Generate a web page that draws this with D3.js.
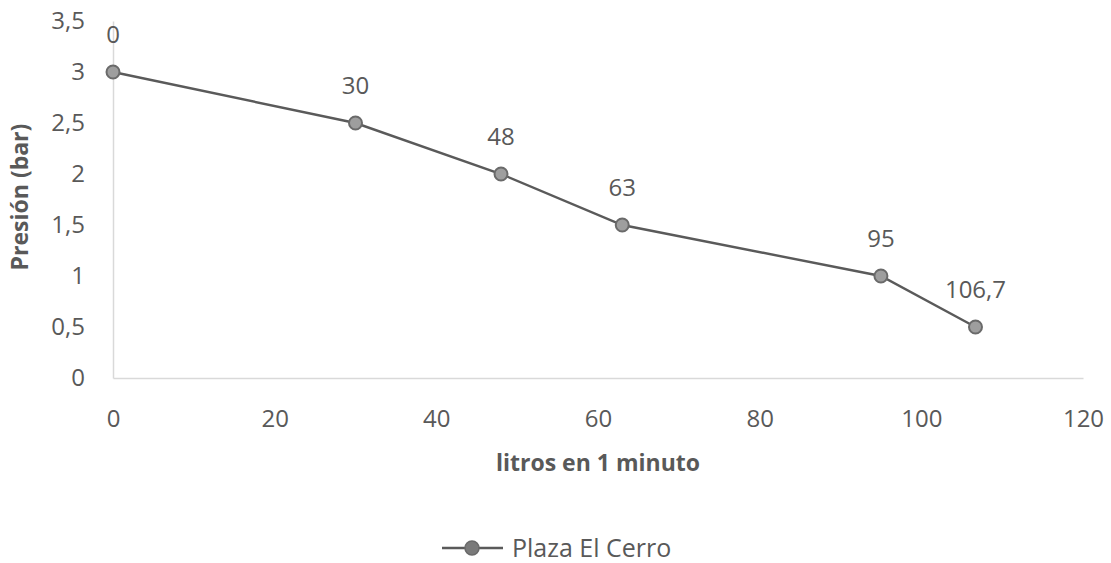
<!DOCTYPE html>
<html>
<head>
<meta charset="utf-8">
<script src="https://cdn.jsdelivr.net/npm/d3@7"></script>
<style>
  body { margin: 0; background: #fff; }
  text { font-family: "Open Sans", "Noto Sans", sans-serif; }
</style>
</head>
<body>
<div id="chart"></div>
<script>
// data
const litros = [0, 30, 48, 63, 95, 106.7];
const presion = [3, 2.5, 2, 1.5, 1, 0.5];
const puntoLabels = ["0", "30", "48", "63", "95", "106,7"];
const xTicks = [0, 20, 40, 60, 80, 100, 120];
const yTicks = [0, 0.5, 1, 1.5, 2, 2.5, 3, 3.5];
const serieName = "Plaza El Cerro";

const width = 1111, height = 563;
const margin = {top: 21, right: 28, bottom: 185, left: 113};

const svg = d3.select("#chart")
    .append("svg")
    .attr("width", width)
    .attr("height", height);

const x = d3.scaleLinear().domain([0, 120]).range([margin.left, width - margin.right]);
const y = d3.scaleLinear().domain([0, 3.5]).range([height - margin.bottom, margin.top]);

const fmt = d => String(d).replace(".", ",");

// axes
const xAxis = svg.append("g")
    .attr("transform", `translate(0, ${y(0)})`)
    .call(d3.axisBottom(x).tickValues(xTicks).tickSize(0).tickPadding(32).tickFormat(fmt));
const yAxis = svg.append("g")
    .attr("transform", `translate(${x(0)}, 0)`)
    .call(d3.axisLeft(y).tickValues(yTicks).tickSize(0).tickPadding(28).tickFormat(fmt));

[xAxis, yAxis].forEach(function (a) {
    a.select(".domain").attr("stroke", "#d9d9d9").attr("stroke-width", 1.5);
    a.selectAll("text").attr("fill", "#595959").style("font-size", "24px");
});

// axis titles
svg.append("text")
    .attr("x", (x(0) + x(120)) / 2)
    .attr("y", 471)
    .attr("text-anchor", "middle")
    .attr("fill", "#595959")
    .style("font-size", "23px")
    .style("font-weight", "bold")
    .text("litros en 1 minuto");

svg.append("text")
    .attr("transform", "translate(28, 197) rotate(-90)")
    .attr("text-anchor", "middle")
    .attr("fill", "#595959")
    .style("font-size", "23px")
    .style("font-weight", "bold")
    .text("Presión (bar)");

const points = litros.map(function (d, i) {
    return {x: d, y: presion[i], label: puntoLabels[i]};
});

// line
const line = d3.line()
    .x(function (d) { return x(d.x); })
    .y(function (d) { return y(d.y); });

svg.append("path")
    .datum(points)
    .attr("fill", "none")
    .attr("stroke", "#5a5a5a")
    .attr("stroke-width", 2.4)
    .attr("d", line);

// markers
svg.selectAll("circle.pt")
    .data(points)
    .join("circle")
    .attr("class", "pt")
    .attr("cx", function (d) { return x(d.x); })
    .attr("cy", function (d) { return y(d.y); })
    .attr("r", 6.5)
    .attr("fill", "#9e9e9e")
    .attr("stroke", "#6a6a6a")
    .attr("stroke-width", 2);

// data labels
svg.selectAll("text.lbl")
    .data(points)
    .join("text")
    .attr("class", "lbl")
    .attr("x", function (d) { return x(d.x); })
    .attr("y", function (d) { return y(d.y) - 29; })
    .attr("text-anchor", "middle")
    .attr("fill", "#595959")
    .style("font-size", "24px")
    .text(function (d) { return d.label; });

// legend
const lg = svg.append("g").attr("transform", "translate(442, 548)");
lg.append("line")
    .attr("x1", 0).attr("x2", 61)
    .attr("stroke", "#5a5a5a").attr("stroke-width", 2.4);
lg.append("circle")
    .attr("cx", 30).attr("r", 7)
    .attr("fill", "#7a7a7a").attr("stroke", "#6a6a6a").attr("stroke-width", 1.5);
lg.append("text")
    .attr("x", 70).attr("dy", "0.35em")
    .attr("fill", "#595959")
    .style("font-size", "25px")
    .text(serieName);
</script>
</body>
</html>
